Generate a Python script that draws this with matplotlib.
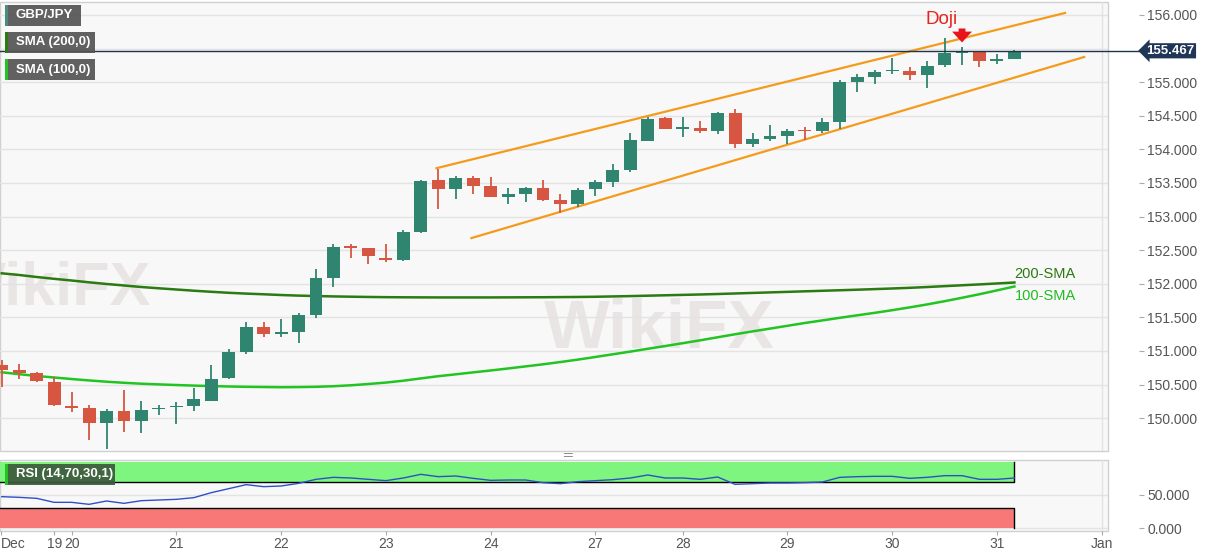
import matplotlib.pyplot as plt
import numpy as np
from matplotlib.patches import Rectangle
from matplotlib.ticker import FormatStrFormatter, FuncFormatter
from matplotlib.transforms import blended_transform_factory

plt.rcParams['font.family'] = ['Liberation Sans', 'DejaVu Sans']

# GBP/JPY 4H candles, 17 Dec -> 31 Dec
opens = [150.79, 150.72, 150.67, 150.54, 150.18, 150.15, 149.93, 150.11, 149.96, 150.13,
         150.16, 150.18, 150.26, 150.60, 150.98, 151.36, 151.26, 151.28, 151.53, 152.08,
         152.56, 152.53, 152.39, 152.35, 152.77, 153.55, 153.41, 153.57, 153.45, 153.29,
         153.34, 153.42, 153.24, 153.19, 153.41, 153.51, 153.69, 154.13, 154.46, 154.31,
         154.32, 154.28, 154.54, 154.08, 154.15, 154.20, 154.28, 154.27, 154.41, 155.01,
         155.08, 155.16, 155.17, 155.11, 155.25, 155.44, 155.45, 155.31, 155.34]
highs = [150.87, 150.81, 150.69, 150.62, 150.39, 150.19, 150.13, 150.42, 150.26, 150.20,
         150.24, 150.45, 150.79, 151.03, 151.43, 151.43, 151.47, 151.56, 152.22, 152.59,
         152.59, 152.54, 152.59, 152.80, 153.54, 153.71, 153.60, 153.60, 153.59, 153.42,
         153.44, 153.55, 153.33, 153.42, 153.55, 153.78, 154.25, 154.48, 154.48, 154.48,
         154.42, 154.56, 154.60, 154.24, 154.36, 154.31, 154.34, 154.46, 155.03, 155.12,
         155.18, 155.36, 155.23, 155.32, 155.66, 155.53, 155.47, 155.42, 155.48]
lows = [150.47, 150.59, 150.54, 150.18, 150.09, 149.68, 149.54, 149.80, 149.78, 150.05,
        149.92, 150.11, 150.25, 150.58, 150.95, 151.21, 151.21, 151.12, 151.49, 151.95,
        152.39, 152.30, 152.32, 152.34, 152.76, 153.11, 153.26, 153.33, 153.29, 153.19,
        153.21, 153.23, 153.06, 153.15, 153.31, 153.44, 153.66, 154.12, 154.30, 154.18,
        154.24, 154.23, 154.02, 154.03, 154.13, 154.08, 154.14, 154.24, 154.31, 154.85,
        154.97, 155.12, 155.03, 154.92, 155.22, 155.25, 155.23, 155.27, 155.34]
closes = [150.72, 150.68, 150.56, 150.19, 150.15, 149.93, 150.11, 149.96, 150.12, 150.15,
          150.18, 150.29, 150.59, 150.98, 151.36, 151.26, 151.28, 151.53, 152.08, 152.55,
          152.54, 152.42, 152.35, 152.77, 153.53, 153.41, 153.57, 153.46, 153.29, 153.34,
          153.42, 153.24, 153.19, 153.39, 153.51, 153.69, 154.14, 154.45, 154.30, 154.32,
          154.28, 154.54, 154.08, 154.15, 154.20, 154.28, 154.27, 154.40, 155.01, 155.08,
          155.15, 155.18, 155.11, 155.24, 155.43, 155.45, 155.31, 155.34, 155.467]

sma200 = [152.156, 152.131, 152.101, 152.074, 152.049, 152.022, 151.997, 151.975, 151.952, 151.933,
          151.915, 151.897, 151.881, 151.866, 151.854, 151.844, 151.833, 151.824, 151.818, 151.812,
          151.808, 151.804, 151.801, 151.799, 151.798, 151.797, 151.797, 151.797, 151.797, 151.798,
          151.799, 151.800, 151.802, 151.804, 151.807, 151.812, 151.817, 151.823, 151.829, 151.835,
          151.841, 151.848, 151.856, 151.864, 151.872, 151.880, 151.888, 151.896, 151.904, 151.912,
          151.921, 151.930, 151.940, 151.952, 151.965, 151.978, 151.991, 152.005, 152.019]
sma100 = [150.683, 150.655, 150.628, 150.606, 150.583, 150.562, 150.543, 150.527, 150.513, 150.503,
          150.494, 150.485, 150.478, 150.472, 150.467, 150.464, 150.461, 150.463, 150.467, 150.476,
          150.490, 150.509, 150.530, 150.558, 150.592, 150.625, 150.653, 150.682, 150.710, 150.740,
          150.771, 150.802, 150.836, 150.872, 150.911, 150.951, 150.991, 151.033, 151.074, 151.116,
          151.159, 151.204, 151.249, 151.292, 151.333, 151.375, 151.417, 151.455, 151.494, 151.531,
          151.568, 151.607, 151.649, 151.693, 151.741, 151.792, 151.845, 151.902, 151.960]
rsi = [47.5, 46.5, 45.0, 39.0, 39.0, 36.0, 41.0, 37.5, 41.5, 42.5,
       43.5, 46.0, 53.5, 59.5, 65.5, 62.5, 63.5, 67.5, 73.5, 76.5,
       75.5, 73.5, 71.5, 75.5, 81.0, 77.5, 78.5, 75.0, 72.0, 72.5,
       72.5, 68.5, 67.0, 70.0, 71.5, 73.0, 75.5, 80.0, 75.5, 75.5,
       73.5, 77.0, 66.0, 67.0, 68.0, 68.0, 68.5, 69.5, 76.5, 77.5,
       78.0, 78.0, 75.0, 76.5, 79.0, 79.0, 73.5, 73.5, 75.5]

# channel trend lines (candle index, price)
upper_x = [24.9, 60.9]
upper_y = [153.72, 156.03]
lower_x = [26.9, 62.0]
lower_y = [152.68, 155.375]

day_labels = ['Dec', '19', '20', '21', '22', '23', '24', '27', '28', '29', '30', '31', 'Jan']
day_ticks = [-0.05, 3, 4, 10, 16, 22, 28, 34, 39, 45, 51, 57, 63]
last_price = 155.467
doji_idx = 55

W, H = 1207, 555
PT = 0.72  # points per pixel at 100 dpi
UP, DOWN = '#2f8570', '#d65642'
GRID = '#e3e3e3'
TXT = '#555555'

fig = plt.figure(figsize=(W / 100, H / 100), dpi=100)
ax = fig.add_axes([0, 104 / H, 1108 / W, 449 / H])
ax2 = fig.add_axes([0, 24 / H, 1108 / W, 71 / H])

n = len(closes)
idx = np.arange(n)
o, h, l, c = map(np.array, (opens, highs, lows, closes))
colors = np.where(c >= o, UP, DOWN)

for a in (ax, ax2):
    a.set_facecolor('#f8f8f8')
    a.set_xlim(-0.1, 63.36)
    for s in ('left', 'top', 'bottom'):
        a.spines[s].set_visible(False)
    a.spines['right'].set_position(('outward', 31 * PT))
    a.spines['right'].set_color('none')
    a.patch.set_edgecolor('#d0d0d0')
    a.patch.set_linewidth(1)
    a.yaxis.tick_right()
    a.tick_params(axis='y', length=5 * PT, color='#aaaaaa', labelcolor=TXT,
                  labelsize=10, pad=3 * PT)
    a.axvline(63, color=GRID, lw=1, zorder=0)

# main price panel
ax.set_ylim(149.512, 156.193)
ax.set_yticks(np.arange(150, 156.01, 0.5))
# the 155.500 label sits under the last-price tag
ax.yaxis.set_major_formatter(FuncFormatter(
    lambda v, p: '' if abs(v - 155.5) < 0.01 else f'{v:.3f}'))
ax.set_xticks([])
ax.grid(axis='y', color=GRID, lw=1, zorder=0)
ax.set_axisbelow(True)

ax.text(0.595, 0.27, 'WikiFX', transform=ax.transAxes, fontsize=50, fontweight='bold',
        color='#d8d0cc', alpha=0.45, ha='center', va='center', zorder=0.5)
ax.text(0.045, 0.36, 'WikiFX', transform=ax.transAxes, fontsize=44, fontweight='bold',
        color='#d8d0cc', alpha=0.45, ha='center', va='center', zorder=0.5)

ax.plot(idx, sma200, color='#2b7a12', lw=1.8, zorder=2)
ax.plot(idx, sma100, color='#22c422', lw=1.8, zorder=2)
ax.plot(upper_x, upper_y, color='#f59b1b', lw=1.6, zorder=2)
ax.plot(lower_x, lower_y, color='#f59b1b', lw=1.6, zorder=2)

ax.vlines(idx, l, h, colors=colors, lw=1.3, zorder=3)
body = np.maximum(np.abs(c - o), 0.025)
ax.bar(idx, body, bottom=np.minimum(o, c), width=0.74, color=colors, zorder=4)

tr = blended_transform_factory(ax.transAxes, ax.transData)
ax.plot([0, 1.028], [last_price, last_price], color='#1e3350', lw=1, transform=tr,
        clip_on=False, zorder=5)
ax.text(1.0345, last_price, f'{last_price:.3f}', transform=tr, ha='left', va='center',
        fontsize=9.5, fontweight='bold', color='white', clip_on=False, zorder=6,
        bbox=dict(boxstyle='larrow,pad=0.12', fc='#1f3656', ec='none'))

ax.text(53.85, 155.926, 'Doji', color='#e5231f', fontsize=13.5, ha='center', va='center')
ax.annotate('', xy=(doji_idx, 155.55), xytext=(doji_idx, 155.84),
            arrowprops=dict(arrowstyle='simple,head_width=1.1,head_length=0.6,tail_width=0.38',
                            color='#e8141c', lw=0, mutation_scale=13))
ax.text(58, 152.146, '200-SMA', color='#2b7a12', fontsize=10.5, ha='left', va='center')
ax.text(58, 151.818, '100-SMA', color='#22bb22', fontsize=10.5, ha='left', va='center')

# RSI panel
ax2.set_ylim(-4, 102.5)
ax2.set_yticks([0, 50])
ax2.yaxis.set_major_formatter(FormatStrFormatter('%.3f'))
ax2.grid(axis='y', color=GRID, lw=1, zorder=0)
ax2.set_axisbelow(True)
ax2.fill_between([-0.1, 58], 70, 100, color='#7ef57e', lw=0, zorder=1)
ax2.fill_between([-0.1, 58], 0, 30, color='#f87878', lw=0, zorder=1)
ax2.plot([-0.1, 58, 58], [70, 70, 100], color='black', lw=1, zorder=2)
ax2.plot([-0.1, 58, 58], [30, 30, 0], color='black', lw=1, zorder=2)
ax2.plot(idx, rsi, color='#2f4fc8', lw=1, zorder=3)
ax2.set_xticks(day_ticks, day_labels)
ax2.get_xticklabels()[0].set_ha('left')
ax2.tick_params(axis='x', length=4 * PT, color='#aaaaaa', labelcolor=TXT,
                labelsize=10, pad=2 * PT)


def label_box(x, y, w, hgt, text, stripe, fc='#555555'):
    fig.add_artist(Rectangle((x / W, 1 - (y + hgt) / H), w / W, hgt / H,
                             transform=fig.transFigure, fc=fc, ec='none', alpha=0.93))
    fig.add_artist(Rectangle((x / W, 1 - (y + hgt) / H), 2.5 / W, hgt / H,
                             transform=fig.transFigure, fc=stripe, ec='none'))
    fig.text((x + 11) / W, 1 - (y + hgt / 2) / H, text, color='white', fontsize=9.5,
             fontweight='bold', va='center', ha='left')


label_box(5, 5, 76, 21, 'GBP/JPY', '#4a8a80')
label_box(5, 32, 90, 21, 'SMA (200,0)', '#2b7a12')
label_box(5, 59, 90, 21, 'SMA (100,0)', '#22c422')
label_box(5, 464, 110, 21, 'RSI (14,70,30,1)', '#22c422', fc='#3c5a3c')
fig.text(568 / W, 1 - 456 / H, '═', color='#888888', fontsize=9, ha='center', va='center')

fig.savefig('out.png', dpi=100)
